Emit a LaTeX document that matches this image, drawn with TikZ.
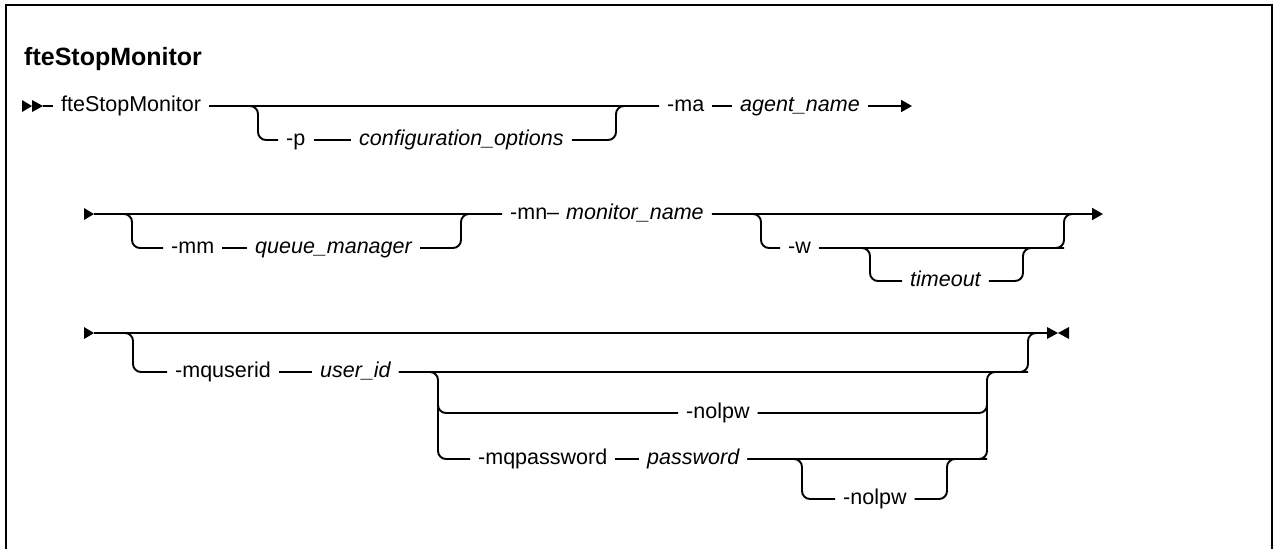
\documentclass[tikz,border=0pt]{standalone}
\usepackage{fontspec}
\setmainfont{Liberation Sans}
\usetikzlibrary{arrows.meta}

\begin{document}
\begin{tikzpicture}[x=1pt, y=-1pt, font=\fontsize{21.5}{24}\selectfont,
    rail/.style={line width=1.9pt, rounded corners=8pt},
    kw/.style={inner sep=0pt, inner xsep=8pt, text height=11pt, text depth=0pt, anchor=west},
    var/.style={kw, font=\fontsize{21.5}{24}\selectfont\itshape},
    tip/.style={-{Triangle[length=11pt, width=12pt]}}]
  \useasboundingbox (0,0) rectangle (1274,549);
  \draw[line width=2.2pt] (6,549) -- (6,5) -- (1272,5) -- (1272,549);
  \node[anchor=base west, inner sep=0pt, font=\fontsize{25}{30}\selectfont\bfseries]
    (title) at (24,65) {fteStopMonitor};
  % --- row 1: command, -p, -ma ---
  \fill (22,100) -- (32,106) -- (22,112) -- cycle;
  \fill (32,100) -- (43,106) -- (32,112) -- cycle;
  \coordinate (r1s) at (43,106);
  \node[kw] (cmd) at (53,106) {fteStopMonitor};
  \node[kw] (p) at (278,140) {-p};
  \node[var] (conf) at (351,140) {configuration\_options};
  \node[kw] (ma) at (659,106) {-ma};
  \node[var] (agent) at (732,106) {agent\_name};
  \coordinate (b1a) at (258,106);
  \coordinate (b1b) at (616,106);
  \coordinate (r1e) at (912,106);
  \draw[rail] (r1s) -- (cmd.west);
  \draw[rail] (cmd.east) -- (ma.west);
  \draw[rail] (cmd.east) -- (b1a) -- (b1a |- p.west) -- (p.west);
  \draw[rail] (p.east) -- (conf.west);
  \draw[rail] (conf.east) -- (b1b |- conf.east) -- (b1b) -- (ma.west);
  \draw[rail] (ma.east) -- (agent.west);
  \draw[rail, tip] (agent.east) -- (r1e);
  % --- start of rows 2 and 3 ---
  \foreach \y/\n in {214/r2s, 333/r3s}
    {\fill (84,\y-6) -- (94,\y) -- (84,\y+6) -- cycle;
     \coordinate (\n) at (94,\y);}
  % --- row 2: -mm, -mn, -w ---
  \node[kw] (mm) at (163,248) {-mm};
  \node[var] (qm) at (247,248) {queue\_manager};
  \node[kw] (mn) at (502,214) {-mn--};
  \node[var, inner xsep=0pt] (mon) at (566,214) {monitor\_name};
  \node[kw] (w) at (780,248) {-w};
  \node[var] (tmo) at (902,281) {timeout};
  \coordinate (b2a) at (132,214);
  \coordinate (b2b) at (461,214);
  \coordinate (b3a) at (761,214);
  \coordinate (b3b) at (1064,214);
  \coordinate (b4a) at (870,248);
  \coordinate (b4b) at (1023,248);
  \coordinate (r2f) at (1080,214);
  \coordinate (r2e) at (1103,214);
  \draw[rail] (r2s) -- (mn.west);
  \draw[rail] (r2s) -- (b2a) -- (b2a |- mm.west) -- (mm.west);
  \draw[rail] (mm.east) -- (qm.west);
  \draw[rail] (qm.east) -- (b2b |- qm.east) -- (b2b) -- (mn.west);
  \draw[rail, tip] ([xshift=8pt]mon.east) -- (r2e);
  \draw[rail] ([xshift=8pt]mon.east) -- (b3a) -- (b3a |- w.west) -- (w.west);
  \draw[rail] (w.east) -- (b3b |- w.east) -- (b3b) -- (r2f);
  \draw[rail] (w.east) -- (b4a) -- (b4a |- tmo.west) -- (tmo.west);
  \draw[rail] (tmo.east) -- (b4b |- tmo.east) -- (b4b) -- (b3b |- b4b);
  % --- row 3: -mquserid, -nolpw, -mqpassword ---
  \node[kw] (muid) at (167,372) {-mquserid};
  \node[var] (uid) at (312,372) {user\_id};
  \node[kw] (nolpa) at (678,413) {-nolpw};
  \node[kw] (mqpw) at (470,459) {-mqpassword};
  \node[var] (pw) at (639,459) {password};
  \node[kw] (nolpb) at (835,499) {-nolpw};
  \coordinate (b5a) at (133,333);
  \coordinate (b5b) at (1028,333);
  \coordinate (b6a) at (438,372);
  \coordinate (b6m) at (438,392);
  \coordinate (b6b) at (987,372);
  \coordinate (b6n) at (987,392);
  \coordinate (b7a) at (802,459);
  \coordinate (b7b) at (947,459);
  \coordinate (r3e) at (1047,333);
  \draw[rail] (r3s) -- (r3e);
  \draw[rail] (r3s) -- (b5a) -- (b5a |- muid.west) -- (muid.west);
  \draw[rail] (muid.east) -- (uid.west);
  \draw[rail] (uid.east) -- (b5b |- uid.east) -- (b5b) -- (r3e);
  \draw[rail] (uid.east) -- (b6a) -- (b6a |- mqpw.west) -- (mqpw.west);
  \draw[rail] (b6m) -- (b6a |- nolpa.west) -- (nolpa.west);
  \draw[rail] (nolpa.east) -- (b6b |- nolpa.east) -- (b6n);
  \draw[rail] (mqpw.east) -- (pw.west);
  \draw[rail] (pw.east) -- (b6b |- pw.east) -- (b6b) -- (b5b |- b6b);
  \draw[rail] (pw.east) -- (b7a) -- (b7a |- nolpb.west) -- (nolpb.west);
  \draw[rail] (nolpb.east) -- (b7b |- nolpb.east) -- (b7b) -- (b6b |- b7b);
  \fill (1047,327) -- (1058,333) -- (1047,339) -- cycle;
  \fill (1069,327) -- (1058,333) -- (1069,339) -- cycle;
\end{tikzpicture}
\end{document}
